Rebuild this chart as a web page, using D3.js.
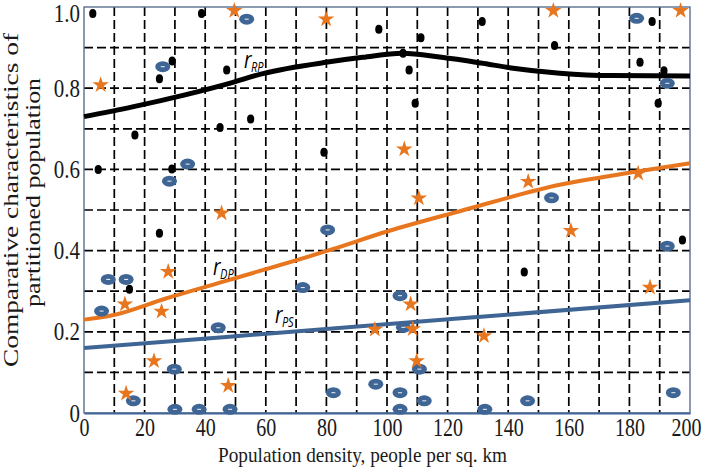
<!DOCTYPE html>
<html>
<head>
<meta charset="utf-8">
<script src="https://cdn.jsdelivr.net/npm/d3@7"></script>
<style>
  html, body { margin: 0; padding: 0; background: #fff; }
  svg { display: block; }
</style>
</head>
<body>
<svg id="chart" width="703" height="468"></svg>
<script>
// ---------------- DATA ----------------
const xTickValues = [0, 20, 40, 60, 80, 100, 120, 140, 160, 180, 200];
const yTickValues = [0, 0.2, 0.4, 0.6, 0.8, 1.0];
const yTickLabels = ["0", "0.2", "0.4", "0.6", "0.8", "1.0"];
const xLabel = "Population density, people per sq. km";
const yLabelLines = ["Comparative characteristics of", "partitioned population"];

// r_RP curve (black)
const rpX = [0, 16, 33, 48, 59, 81, 92, 105, 118, 131, 141, 157, 174, 200];
const rpY = [0.730, 0.754, 0.783, 0.812, 0.836, 0.865, 0.876, 0.886, 0.876, 0.862, 0.850, 0.837, 0.831, 0.830];
// r_DP curve (orange)
const dpX = [0, 9, 27, 48, 81, 100, 124, 157, 182, 200];
const dpY = [0.230, 0.240, 0.282, 0.328, 0.401, 0.447, 0.497, 0.562, 0.594, 0.615];
// r_PS curve (blue)
const psX = [0, 48, 131, 200];
const psY = [0.160, 0.188, 0.237, 0.278];

// black dots
const dotX = [2.9, 38.8, 29.1, 24.9, 47.1, 16.8, 44.9, 55.0, 4.7, 29.0, 24.9, 15.0, 79.2, 97.3, 111.2, 105.3, 107.3, 109.3, 131.4, 155.3, 187.5, 183.5, 191.4, 189.5, 145.3, 197.5];
const dotY = [0.984, 0.984, 0.867, 0.823, 0.845, 0.685, 0.703, 0.724, 0.600, 0.601, 0.443, 0.305, 0.642, 0.945, 0.924, 0.886, 0.845, 0.763, 0.964, 0.905, 0.964, 0.864, 0.843, 0.763, 0.347, 0.426];

// orange stars
const starX = [49.6, 5.5, 45.4, 79.9, 105.7, 110.5, 154.9, 196.9, 146.6, 182.9, 160.7, 186.8, 132.0, 27.8, 13.5, 25.6, 23.1, 13.9, 47.6, 96.0, 107.8, 108.5, 109.8];
const starY = [0.991, 0.808, 0.492, 0.970, 0.650, 0.529, 0.991, 0.991, 0.570, 0.590, 0.449, 0.309, 0.190, 0.348, 0.268, 0.250, 0.128, 0.048, 0.067, 0.206, 0.268, 0.207, 0.128];

// blue ellipses
const ellX = [53.7, 26.0, 34.2, 28.2, 182.4, 192.5, 154.3, 80.4, 72.2, 104.3, 105.4, 110.7, 96.3, 82.3, 104.3, 112.3, 104.3, 132.3, 146.4, 194.5, 192.5, 8.0, 13.9, 5.8, 44.3, 29.8, 16.3, 30.0, 38.0, 48.2];
const ellY = [0.970, 0.853, 0.613, 0.571, 0.972, 0.812, 0.530, 0.451, 0.309, 0.289, 0.211, 0.108, 0.071, 0.050, 0.050, 0.030, 0.009, 0.009, 0.030, 0.050, 0.411, 0.329, 0.329, 0.251, 0.210, 0.108, 0.030, 0.009, 0.009, 0.009];

// curve labels (anchored in data units)
const curveLabels = [
  { main: "r", sub: "RP", x: 52.8, y: 0.850 },
  { main: "r", sub: "DP", x: 42.6, y: 0.340 },
  { main: "r", sub: "PS", x: 63.0, y: 0.222 }
];

// ---------------- STYLE ----------------
const BLACK = "#000000";
const ORANGE = "#E8761F";
const BLUE = "#3F6595";
const FRAME = "#5a6f8f";
const SERIF = "'Liberation Serif', 'Times New Roman', serif";
const TXT = "#1a1a1a";
const VSTRETCH = 1.22;

const svg = d3.select("#chart");
const pLeft = 84, pRight = 690, pTop = 7, pBottom = 413;

const x = d3.scaleLinear().domain([0, 200]).range([pLeft, pRight]);
const y = d3.scaleLinear().domain([0, 1]).range([pBottom, pTop]);

// grid
const grid = svg.append("g");
grid.selectAll("line.v").data(d3.range(10, 200, 10)).join("line").attr("class", "v")
  .attr("x1", d => x(d)).attr("x2", d => x(d))
  .attr("y1", pTop).attr("y2", pBottom)
  .attr("stroke", "#000").attr("stroke-width", 1.7).attr("stroke-dasharray", "9,4");
grid.selectAll("line.h").data(d3.range(1, 10).map(i => i / 10)).join("line").attr("class", "h")
  .attr("x1", pLeft).attr("x2", pRight)
  .attr("y1", d => y(d)).attr("y2", d => y(d))
  .attr("stroke", "#000").attr("stroke-width", 1.7).attr("stroke-dasharray", "9,4");

// frame
svg.append("rect").attr("x", pLeft).attr("y", pTop)
  .attr("width", pRight - pLeft).attr("height", pBottom - pTop)
  .attr("fill", "none").attr("stroke", FRAME).attr("stroke-width", 1.4);

// x axis
const xAxis = svg.append("g").attr("transform", `translate(0,${pBottom})`)
  .call(d3.axisBottom(x).tickValues(xTickValues).tickSize(0).tickPadding(8).tickFormat(d3.format("d")));
xAxis.select(".domain").attr("stroke", BLUE).attr("stroke-width", 2.2);
xAxis.selectAll(".tick text")
  .attr("y", 0).attr("dy", null)
  .attr("transform", d => `translate(${d === 200 ? -4 : 0},23) scale(1,${VSTRETCH})`)
  .attr("font-family", SERIF).attr("font-size", 20).attr("fill", TXT);

// y axis
const yAxis = svg.append("g").attr("transform", `translate(${pLeft},0)`)
  .call(d3.axisLeft(y).tickValues(yTickValues).tickSize(0).tickPadding(4)
    .tickFormat((d, i) => yTickLabels[i]));
yAxis.select(".domain").remove();
yAxis.selectAll(".tick").attr("transform", d => `translate(0,${Math.max(y(d), 13)})`);
yAxis.selectAll(".tick text")
  .attr("x", 0).attr("y", 0).attr("dy", null)
  .attr("transform", `translate(-4,8.5) scale(1,${VSTRETCH})`)
  .attr("font-family", SERIF).attr("font-size", 21).attr("fill", TXT);

// axis titles
svg.append("text")
  .attr("x", 218).attr("y", 462)
  .attr("textLength", 289).attr("lengthAdjust", "spacingAndGlyphs")
  .attr("font-family", SERIF).attr("font-size", 21).attr("fill", TXT)
  .text(xLabel);

svg.append("text")
  .attr("transform", "translate(18,367) rotate(-90)")
  .attr("textLength", 334).attr("lengthAdjust", "spacingAndGlyphs")
  .attr("font-family", SERIF).attr("font-size", 21).attr("fill", TXT)
  .text(yLabelLines[0]);
svg.append("text")
  .attr("transform", "translate(40,307) rotate(-90)")
  .attr("textLength", 229).attr("lengthAdjust", "spacingAndGlyphs")
  .attr("font-family", SERIF).attr("font-size", 21).attr("fill", TXT)
  .text(yLabelLines[1]);

// curves
const lineGen = d3.line().x(d => x(d[0])).y(d => y(d[1])).curve(d3.curveMonotoneX);
const curves = [
  { xs: rpX, ys: rpY, color: BLACK, w: 5 },
  { xs: dpX, ys: dpY, color: ORANGE, w: 4 },
  { xs: psX, ys: psY, color: BLUE, w: 4 }
];
svg.append("g").selectAll("path").data(curves).join("path")
  .attr("d", c => lineGen(c.xs.map((v, i) => [v, c.ys[i]])))
  .attr("fill", "none").attr("stroke", c => c.color).attr("stroke-width", c => c.w)
  .attr("stroke-linecap", "butt");

// black dots
svg.append("g").selectAll("ellipse").data(dotX.map((v, i) => [v, dotY[i]])).join("ellipse")
  .attr("cx", d => x(d[0])).attr("cy", d => y(d[1]))
  .attr("rx", 3.6).attr("ry", 4.5).attr("fill", BLACK);

// blue ellipses
const eg = svg.append("g").selectAll("g").data(ellX.map((v, i) => [v, ellY[i]])).join("g")
  .attr("transform", d => `translate(${x(d[0])},${y(d[1])})`);
eg.append("ellipse").attr("rx", 7.5).attr("ry", 5.5).attr("fill", BLUE);
eg.append("line").attr("x1", -2).attr("x2", 2).attr("y1", 0).attr("y2", 0)
  .attr("stroke", "#dfe6f0").attr("stroke-width", 1.1);

// stars
const star = d3.symbol().type(d3.symbolStar).size(85);
svg.append("g").selectAll("path").data(starX.map((v, i) => [v, starY[i]])).join("path")
  .attr("transform", d => `translate(${x(d[0])},${y(d[1])})`)
  .attr("d", star).attr("fill", ORANGE);

// curve labels
const lg = svg.append("g").selectAll("g").data(curveLabels).join("g")
  .attr("transform", d => `translate(${x(d.x)},${y(d.y)}) scale(1,1.25)`);
lg.append("text").attr("x", 0).attr("y", 0)
  .attr("font-family", "'Open Sans', 'Liberation Sans', sans-serif")
  .attr("font-style", "italic").attr("font-size", 19).attr("fill", BLACK)
  .text(d => d.main);
lg.append("text").attr("x", 7).attr("y", 3)
  .attr("font-family", "'Open Sans', 'Liberation Sans', sans-serif")
  .attr("font-style", "italic").attr("font-size", 11).attr("fill", BLACK)
  .text(d => d.sub);
</script>
</body>
</html>
